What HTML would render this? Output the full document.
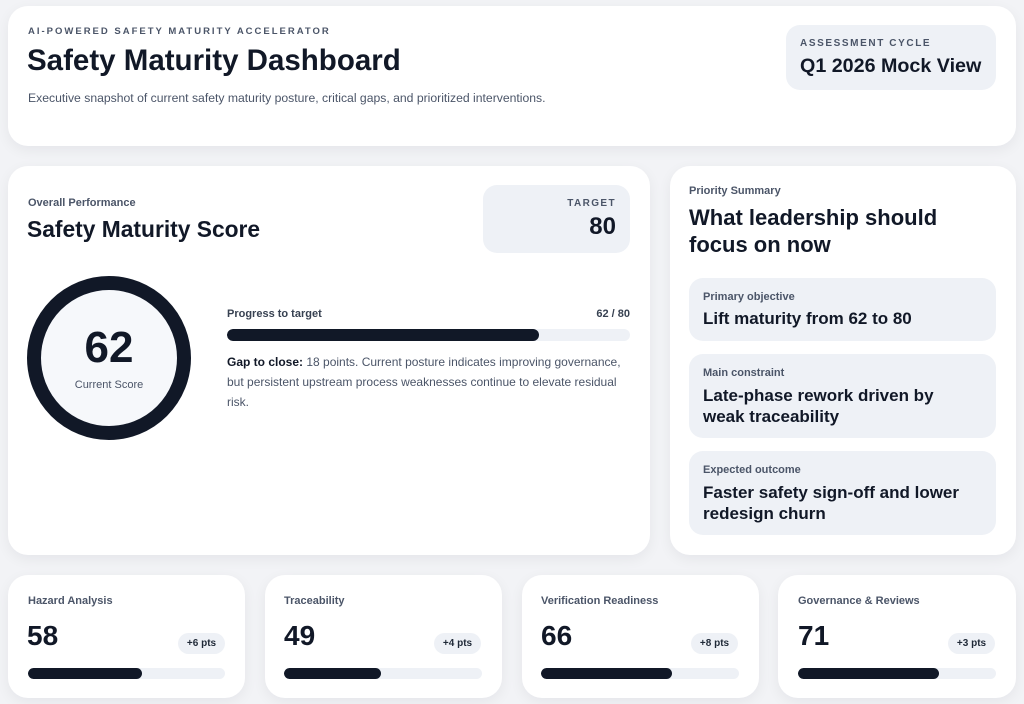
<!DOCTYPE html>
<html><head><meta charset="utf-8"><style>
*{box-sizing:border-box;margin:0;padding:0}
body{width:1024px;height:704px;background:#f2f3f6;font-family:"Liberation Sans",sans-serif;color:#111827;position:relative;overflow:hidden}
.card{position:absolute;background:#fff;border-radius:20px;box-shadow:0 4px 14px rgba(15,23,42,.06)}
.abs{position:absolute;white-space:nowrap}
.lbl{font-size:11px;font-weight:bold;color:#4b5568}
.box{position:absolute;background:#eef1f6;border-radius:14px}
.bar{position:absolute;height:11px;border-radius:6px;background:#eef1f6;overflow:hidden}
.bar i{display:block;height:100%;background:#111827;border-radius:6px}
.pill{position:absolute;background:#eef1f6;border-radius:11px;font-size:10px;font-weight:bold;color:#1f2937;text-align:center;line-height:21px;height:21px;width:47px}
</style></head><body>
<div class="card" style="left:8px;top:6px;width:1008px;height:140px">
<div class="abs" style="left:20px;top:20px;font-size:9.5px;font-weight:bold;letter-spacing:2px;color:#4b5568">AI-POWERED SAFETY MATURITY ACCELERATOR</div>
<div class="abs" style="left:19px;top:38px;font-size:29.5px;font-weight:bold">Safety Maturity Dashboard</div>
<div class="abs" style="left:20px;top:85px;font-size:12.2px;color:#4b5568">Executive snapshot of current safety maturity posture, critical gaps, and prioritized interventions.</div>
<div class="box" style="left:778px;top:19px;width:210px;height:65px">
<div class="abs" style="left:14px;top:13px;font-size:10px;font-weight:bold;letter-spacing:1.6px;color:#4b5568">ASSESSMENT CYCLE</div>
<div class="abs" style="left:14px;top:30px;font-size:19.7px;font-weight:bold">Q1 2026 Mock View</div>
</div></div>

<div class="card" style="left:8px;top:166px;width:642px;height:389px">
<div class="abs lbl" style="left:20px;top:31px">Overall Performance</div>
<div class="abs" style="left:19px;top:50px;font-size:22.8px;font-weight:bold">Safety Maturity Score</div>
<div class="box" style="left:475px;top:19px;width:147px;height:68px">
<div class="abs" style="right:14px;top:13px;font-size:10px;font-weight:bold;letter-spacing:1.4px;color:#4b5568">TARGET</div>
<div class="abs" style="right:14px;top:28px;font-size:24px;font-weight:bold">80</div>
</div>
<svg class="abs" style="left:19px;top:110px" width="166" height="166"><circle cx="82" cy="82" r="75" fill="#f6f8fb" stroke="#111827" stroke-width="14"/></svg>
<div class="abs" style="left:19px;top:157px;width:164px;text-align:center;font-size:44px;font-weight:bold">62</div>
<div class="abs" style="left:19px;top:213px;width:164px;text-align:center;font-size:11px;color:#4b5568">Current Score</div>
<div class="abs lbl" style="left:219px;top:142px;color:#374151">Progress to target</div>
<div class="abs lbl" style="right:20px;top:142px;color:#374151">62 / 80</div>
<div class="bar" style="left:219px;top:163px;width:403px;height:12px"><i style="width:77.5%"></i></div>
<div class="abs" style="left:219px;top:186px;width:405px;white-space:normal;font-size:12px;line-height:20px;color:#4b5568"><b style="color:#111827">Gap to close:</b> 18 points. Current posture indicates improving governance, but persistent upstream process weaknesses continue to elevate residual risk.</div>
</div>

<div class="card" style="left:670px;top:166px;width:346px;height:389px">
<div class="abs lbl" style="left:19px;top:19px">Priority Summary</div>
<div class="abs" style="left:19px;top:38px;font-size:22px;font-weight:bold;line-height:27px">What leadership should<br>focus on now</div>
<div class="box" style="left:19px;top:112px;width:307px;height:63px">
<div class="abs lbl" style="left:14px;top:13px">Primary objective</div>
<div class="abs" style="left:14px;top:31px;font-size:17px;font-weight:bold">Lift maturity from 62 to 80</div></div>
<div class="box" style="left:19px;top:188px;width:307px;height:84px">
<div class="abs lbl" style="left:14px;top:13px">Main constraint</div>
<div class="abs" style="left:14px;top:31px;font-size:17px;font-weight:bold;line-height:21px">Late-phase rework driven by<br>weak traceability</div></div>
<div class="box" style="left:19px;top:285px;width:307px;height:84px">
<div class="abs lbl" style="left:14px;top:13px">Expected outcome</div>
<div class="abs" style="left:14px;top:31px;font-size:17px;font-weight:bold;line-height:21px">Faster safety sign-off and lower<br>redesign churn</div></div>
</div>

<div class="card" style="left:8px;top:575px;width:237px;height:123px">
<div class="abs lbl" style="left:20px;top:20px">Hazard Analysis</div>
<div class="abs" style="left:19px;top:45px;font-size:28px;font-weight:bold">58</div>
<div class="pill" style="left:170px;top:58px">+6 pts</div>
<div class="bar" style="left:20px;top:93px;width:197px"><i style="width:58%"></i></div></div>
<div class="card" style="left:265px;top:575px;width:237px;height:123px">
<div class="abs lbl" style="left:19px;top:20px">Traceability</div>
<div class="abs" style="left:19px;top:45px;font-size:28px;font-weight:bold">49</div>
<div class="pill" style="left:169px;top:58px">+4 pts</div>
<div class="bar" style="left:19px;top:93px;width:198px"><i style="width:49%"></i></div></div>
<div class="card" style="left:522px;top:575px;width:237px;height:123px">
<div class="abs lbl" style="left:19px;top:20px">Verification Readiness</div>
<div class="abs" style="left:19px;top:45px;font-size:28px;font-weight:bold">66</div>
<div class="pill" style="left:169px;top:58px">+8 pts</div>
<div class="bar" style="left:19px;top:93px;width:198px"><i style="width:66%"></i></div></div>
<div class="card" style="left:778px;top:575px;width:238px;height:123px">
<div class="abs lbl" style="left:20px;top:20px">Governance &amp; Reviews</div>
<div class="abs" style="left:20px;top:45px;font-size:28px;font-weight:bold">71</div>
<div class="pill" style="left:170px;top:58px">+3 pts</div>
<div class="bar" style="left:20px;top:93px;width:198px"><i style="width:71%"></i></div></div>
</body></html>
